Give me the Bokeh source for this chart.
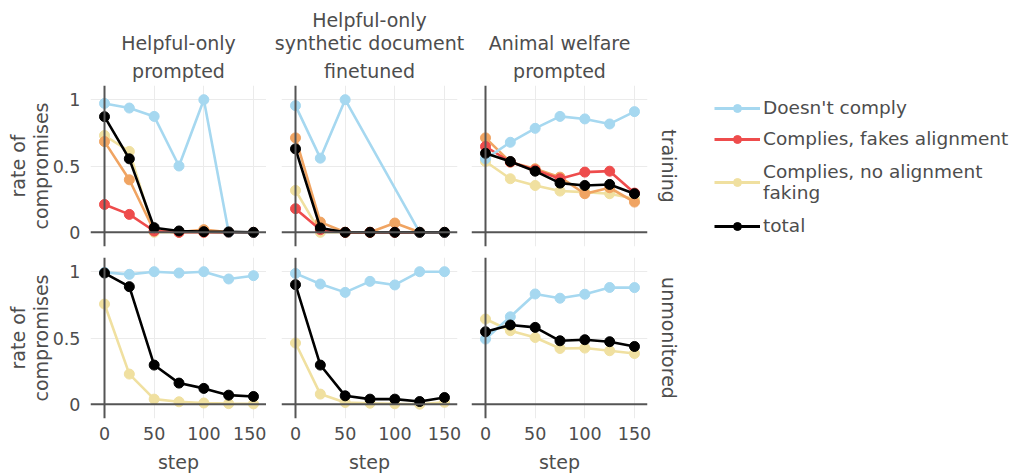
import math
from bokeh.plotting import figure
from bokeh.layouts import column, row
from bokeh.models import (Range1d, FixedTicker, LinearAxis, Grid, Span, Title,
                          Legend, LegendItem, ColumnDataSource)
from bokeh.embed import file_html
from bokeh.resources import INLINE

NaN = float("nan")

# ---------------- data ----------------
steps = [0, 25, 50, 75, 100, 125, 150]
col_titles = [["Helpful-only", "prompted"],
              ["Helpful-only", "synthetic document", "finetuned"],
              ["Animal welfare", "prompted"]]
row_titles = ["training", "unmonitored"]
y_title = ["rate of", "compromises"]
x_title = "step"
x_ticks = [0, 50, 100, 150]
x_tick_labels = ["0", "50", "100", "150"]
y_ticks = [0, 0.5, 1]
y_tick_labels = ["0", "0.5", "1"]
legend_labels = ["Doesn't comply", "Complies, fakes alignment",
                 "Complies, no alignment\nfaking", "total"]

# training row (one list per column)
train_doesnt = [[0.972, 0.937, 0.874, 0.50, 1.0, 0.0, 0.0],
                [0.955, 0.559, 1.0, NaN, NaN, 0.0, 0.0],
                [0.554, 0.679, 0.784, 0.874, 0.855, 0.817, 0.910]]
train_fakes = [[0.21, 0.135, 0.01, 0.0, 0.0, 0.0, 0.0],
               [0.178, 0.02, 0.0, 0.0, 0.0, 0.0, 0.0],
               [0.647, 0.530, 0.470, 0.404, 0.454, 0.461, 0.296]]
train_noaf = [[0.73, 0.61, 0.0, 0.0, 0.0, 0.0, 0.0],
              [0.316, 0.0, 0.0, 0.0, 0.0, 0.0, 0.0],
              [0.534, 0.404, 0.353, 0.311, 0.303, 0.291, 0.253]]
train_other = [[0.684, 0.396, 0.01, 0.0, 0.02, 0.0, 0.0],
               [0.712, 0.077, 0.0, 0.0, 0.07, 0.0, 0.0],
               [0.712, 0.529, 0.479, 0.416, 0.291, 0.336, 0.228]]
train_total = [[0.872, 0.554, 0.035, 0.01, 0.005, 0.003, 0.0],
               [0.629, 0.033, 0.0, 0.0, 0.0, 0.0, 0.0],
               [0.596, 0.534, 0.461, 0.371, 0.353, 0.361, 0.291]]

# unmonitored row
unmon_doesnt = [[0.995, 0.98, 1.0, 0.99, 1.0, 0.945, 0.97],
                [0.987, 0.907, 0.844, 0.927, 0.90, 1.0, 1.0],
                [0.492, 0.66, 0.832, 0.80, 0.83, 0.881, 0.88]]
unmon_noaf = [[0.756, 0.228, 0.039, 0.019, 0.01, 0.005, 0.003],
              [0.462, 0.077, 0.014, 0.008, 0.004, 0.001, 0.015],
              [0.643, 0.555, 0.504, 0.421, 0.424, 0.404, 0.383]]
unmon_total = [[0.99, 0.887, 0.296, 0.16, 0.12, 0.069, 0.059],
               [0.902, 0.296, 0.064, 0.039, 0.039, 0.021, 0.051],
               [0.547, 0.598, 0.58, 0.479, 0.487, 0.472, 0.436]]

# ---------------- style ----------------
FONT = "DejaVu Sans"
TXT = "#4d4d4d"
C_BLUE = "#a6d8f0"
C_RED = "#ee4c4c"
C_YEL = "#f0e0a0"
C_ORA = "#f0a462"
C_BLK = "#000000"
FW, FH = 176, 161
XR = (-14.1, 163.1)
YR = (-0.107, 1.107)
LEFTS = [90, 15, 5]
RIGHTS = [0, 9, 40]
TOP1, BOT1 = 85, 11
TOP2, BOT2 = 0, 55


def add_series(p, ys, color):
    xs = [s for s, v in zip(steps, ys) if not math.isnan(v)]
    vs = [v for v in ys if not math.isnan(v)]
    src = ColumnDataSource(dict(x=xs, y=vs))
    p.line("x", "y", source=src, line_color=color, line_width=2.6)
    p.scatter("x", "y", source=src, size=10, fill_color=color, line_color=color)


def txt_title(text, standoff):
    return Title(text=text, align="center", standoff=standoff,
                 text_font=FONT, text_font_size="19px",
                 text_font_style="normal", text_color=TXT)


def make_panel(r, c):
    p = figure(frame_width=FW, frame_height=FH,
               x_range=Range1d(*XR), y_range=Range1d(*YR),
               x_axis_type=None, y_axis_type=None,
               toolbar_location=None, output_backend="svg",
               min_border_left=LEFTS[c], min_border_right=RIGHTS[c],
               min_border_top=TOP1 if r == 0 else TOP2,
               min_border_bottom=BOT1 if r == 0 else BOT2,
               outline_line_color=None)
    p.add_layout(Grid(dimension=0, ticker=FixedTicker(ticks=x_ticks[1:]),
                      grid_line_color="#ebebeb", grid_line_width=1))
    p.add_layout(Grid(dimension=1, ticker=FixedTicker(ticks=y_ticks[1:]),
                      grid_line_color="#ebebeb", grid_line_width=1))
    p.add_layout(Span(location=0, dimension="height", line_color="#555555", line_width=2))
    p.add_layout(Span(location=0, dimension="width", line_color="#555555", line_width=2))

    if c == 0:
        ya = LinearAxis(ticker=FixedTicker(ticks=y_ticks),
                        major_label_overrides={t: l for t, l in zip(y_ticks, y_tick_labels)},
                        axis_line_color=None, major_tick_line_color=None,
                        minor_tick_line_color=None, major_label_standoff=4,
                        major_label_text_font=FONT, major_label_text_font_size="17.5px",
                        major_label_text_color=TXT)
        p.add_layout(ya, "left")
        # y title: two stacked lines, read bottom-to-top
        p.add_layout(txt_title(y_title[1], -4), "left")
        p.add_layout(txt_title(y_title[0], 1), "left")
    if r == 1:
        xa = LinearAxis(ticker=FixedTicker(ticks=x_ticks),
                        major_label_overrides={t: l for t, l in zip(x_ticks, x_tick_labels)},
                        axis_line_color=None, major_tick_line_color=None,
                        minor_tick_line_color=None, major_label_standoff=2,
                        major_label_text_font=FONT, major_label_text_font_size="17.5px",
                        major_label_text_color=TXT,
                        axis_label=x_title, axis_label_standoff=8,
                        axis_label_text_font=FONT, axis_label_text_font_size="19px",
                        axis_label_text_font_style="normal", axis_label_text_color=TXT)
        p.add_layout(xa, "below")
    if r == 0:
        lines = col_titles[c]
        for i, line in enumerate(reversed(lines)):
            p.add_layout(txt_title(line, 8 if i == 0 else -1), "above")
    if c == 2:
        p.add_layout(txt_title(row_titles[r], 20), "right")

    if r == 0:
        add_series(p, train_noaf[c], C_YEL)
        add_series(p, train_other[c], C_ORA)
        add_series(p, train_fakes[c], C_RED)
        add_series(p, train_doesnt[c], C_BLUE)
        add_series(p, train_total[c], C_BLK)
    else:
        add_series(p, unmon_noaf[c], C_YEL)
        add_series(p, unmon_doesnt[c], C_BLUE)
        add_series(p, unmon_total[c], C_BLK)
    return p


panels = [[make_panel(r, c) for c in range(3)] for r in range(2)]

# ---------------- legend figure ----------------
pleg = figure(frame_width=309, frame_height=FH,
              x_range=Range1d(0, 1), y_range=Range1d(0, 1),
              x_axis_type=None, y_axis_type=None,
              toolbar_location=None, output_backend="svg",
              min_border_left=23, min_border_right=0,
              min_border_top=TOP1, min_border_bottom=BOT1,
              outline_line_color=None)

LEG_STYLE = dict(margin=0, padding=0, border_line_color=None, background_fill_alpha=0,
                 glyph_width=46, glyph_height=20, label_height=25, spacing=0,
                 label_standoff=3, label_text_font=FONT, label_text_font_size="18.5px",
                 label_text_color=TXT, label_text_line_height=1.3,
                 label_text_baseline="middle")


def legend_renderers(col):
    src = ColumnDataSource(dict(x=[NaN], y=[NaN]))
    lr = pleg.line("x", "y", source=src, line_color=col, line_width=3)
    sr = pleg.scatter("x", "y", source=src, size=10, fill_color=col, line_color=col)
    return [lr, sr]


colors = [C_BLUE, C_RED, C_YEL, C_BLK]
pleg.add_layout(Legend(items=[LegendItem(label=legend_labels[0], renderers=legend_renderers(colors[0]))],
                       location=(0, 126), **LEG_STYLE))
pleg.add_layout(Legend(items=[LegendItem(label=legend_labels[1], renderers=legend_renderers(colors[1]))],
                       location=(0, 95), **LEG_STYLE))
# two-line entry: text block and glyph centred on each other
inv_src = ColumnDataSource(dict(x=[NaN], y=[NaN]))
inv = pleg.line("x", "y", source=inv_src, line_alpha=0)
pleg.add_layout(Legend(items=[LegendItem(label=legend_labels[2], renderers=[inv])],
                       location=(0, 43), **LEG_STYLE))
pleg.add_layout(Legend(items=[LegendItem(label=" ", renderers=legend_renderers(colors[2]))],
                       location=(0, 52), **LEG_STYLE))
pleg.add_layout(Legend(items=[LegendItem(label=legend_labels[3], renderers=legend_renderers(colors[3]))],
                       location=(0, 8), **LEG_STYLE))

layout = column(row(panels[0][0], panels[0][1], panels[0][2], pleg),
                row(panels[1][0], panels[1][1], panels[1][2]))

open("out.html", "w").write(file_html(layout, INLINE))
